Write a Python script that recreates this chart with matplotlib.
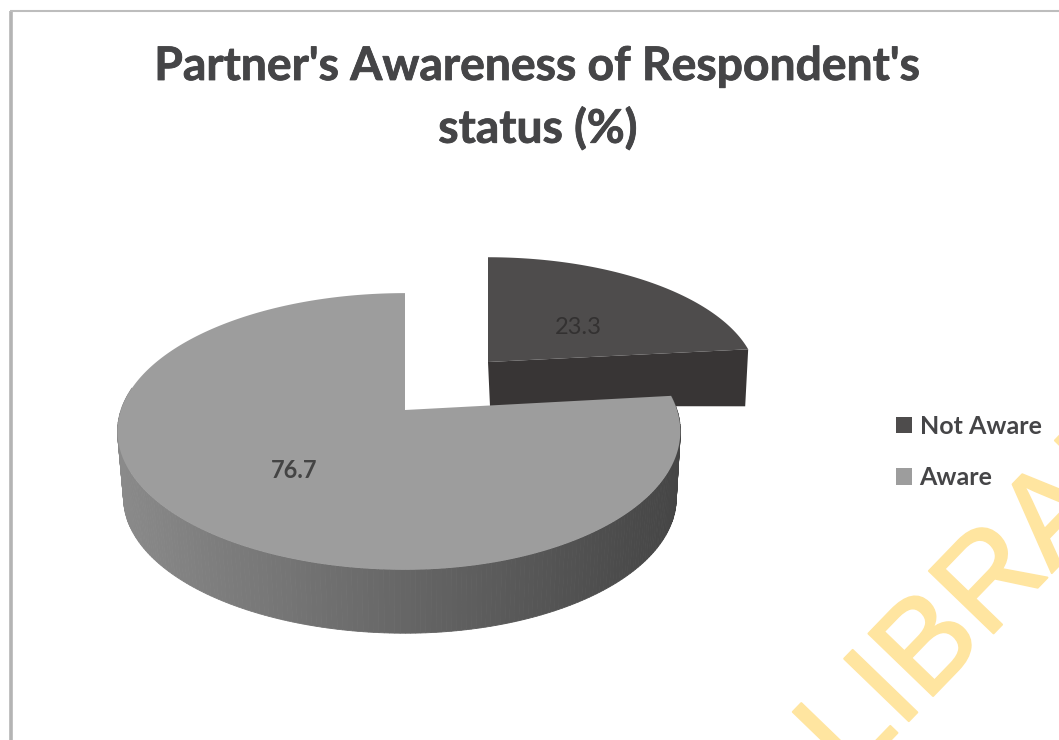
import numpy as np
import matplotlib
matplotlib.use('Agg')
import matplotlib.pyplot as plt
import matplotlib.patheffects as pe
from matplotlib.patches import Polygon, Patch
from matplotlib.colors import to_rgb

# dane
categories = ['Not Aware', 'Aware']
values = [23.3, 76.7]
title_lines = ["Partner's Awareness of Respondent's", 'status (%)']
watermark = 'LIBRARY'

colors_top = ['#4e4c4c', '#9d9d9d']
color_wall = '#383535'
side_left = '#8a8a8a'
side_mid = '#676767'
side_right = '#454545'
text_col = '#454547'
font = 'Lato'


def rim(theta, cx, cy, rx_l, rx_r, ry, k=0.155):
    # punkt na krawedzi kola w lekkiej perspektywie, theta od godziny 12 zgodnie z zegarem
    u = np.sin(theta)
    v = np.cos(theta)
    w = 1 + k * v
    x = cx + np.where(u < 0, rx_l, rx_r) * u / w
    y = cy - ry * v / w
    return x, y


fig = plt.figure(figsize=(10.59, 7.4), dpi=100)
ax = fig.add_axes([0, 0, 1, 1])
ax.set_xlim(0, 1059)
ax.set_ylim(740, 0)
ax.axis('off')

# ramka
ax.plot([11, 11], [740, 11], color='#b4b4b4', lw=2.6, solid_capstyle='butt')
ax.plot([10, 1059], [10.5, 10.5], color='#bdbdbd', lw=1.5, solid_capstyle='butt')

ax.text(538, 67, title_lines[0], ha='center', va='center',
        fontsize=33.3, fontweight='bold', family=font, color=text_col,
        path_effects=[pe.withStroke(linewidth=0.6, foreground=text_col)])
ax.text(538, 129, title_lines[1], ha='center', va='center',
        fontsize=33.3, fontweight='bold', family=font, color=text_col,
        path_effects=[pe.withStroke(linewidth=0.6, foreground=text_col)])

split = 2 * np.pi * values[0] / sum(values)

# wycinek Not Aware (wysuniety)
t1 = np.linspace(0, split, 80)
cx1, cy1 = 488, 362
x1, y1 = rim(t1, cx1, cy1, 266, 266, 121)
ax.add_patch(Polygon(np.column_stack([[cx1, x1[-1], x1[-1] - 3, cx1 + 2],
                                      [cy1, y1[-1], y1[-1] + 57, cy1 + 44]]),
                     fc=color_wall, ec='none', zorder=2))
ax.add_patch(Polygon(np.column_stack([np.r_[cx1, x1], np.r_[cy1, y1]]),
                     fc=colors_top[0], ec='none', zorder=3))

# boczna sciana wycinka Aware, paski z gradientem
cx2, cy2 = 405, 410
t2 = np.linspace(split, 2 * np.pi, 300)
x2, y2 = rim(t2, cx2, cy2, 284, 272, 135)
xb, yb = rim(t2, cx2, cy2 + 4, 278, 268, 132)
yb = yb + 63
c_l, c_m, c_r = map(lambda c: np.array(to_rgb(c)), (side_left, side_mid, side_right))
for i in range(len(t2) - 1):
    # 0 = prawa strona, 1 = lewa strona
    f = (x2[i] - x2.max()) / (x2.min() - x2.max())
    col = c_r + (c_m - c_r) * f / 0.5 if f < 0.5 else c_m + (c_l - c_m) * (f - 0.5) / 0.5
    if t2[i] > 1.55 * np.pi:
        continue
    ax.add_patch(Polygon([[x2[i], y2[i]], [x2[i + 1], y2[i + 1]],
                          [xb[i + 1], yb[i + 1]], [xb[i], yb[i]]],
                         fc=col, ec=col, lw=0.6, zorder=4))
ax.add_patch(Polygon(np.column_stack([np.r_[cx2, x2], np.r_[cy2, y2]]),
                     fc=colors_top[1], ec='none', zorder=5))

# etykiety wartosci
ax.text(578, 327, f'{values[0]}', ha='center', va='center', fontsize=17,
        family=font, color='#333131', zorder=6)
ax.text(294, 470, f'{values[1]}', ha='center', va='center', fontsize=17,
        family=font, fontweight='bold', color='#444444', zorder=6)

# legenda
handles = [Patch(fc=colors_top[0], ec='none'), Patch(fc=colors_top[1], ec='none')]
ax.legend(handles, categories, loc='center left', bbox_to_anchor=(896, 452),
          bbox_transform=ax.transData, frameon=False, handlelength=0.62, handleheight=0.62,
          handletextpad=0.32, labelspacing=1.15, borderpad=0, borderaxespad=0,
          prop={'family': font, 'weight': 'bold', 'size': 18}, labelcolor=text_col)

# znak wodny
ax.text(850, 782, watermark, rotation=46, rotation_mode='anchor', ha='left', va='baseline',
        fontsize=94, family='Liberation Sans', color='#ffe5a0', clip_on=True, zorder=7,
        path_effects=[pe.withStroke(linewidth=1.5, foreground='#ffe5a0')])

plt.savefig('out.png', dpi=100)
